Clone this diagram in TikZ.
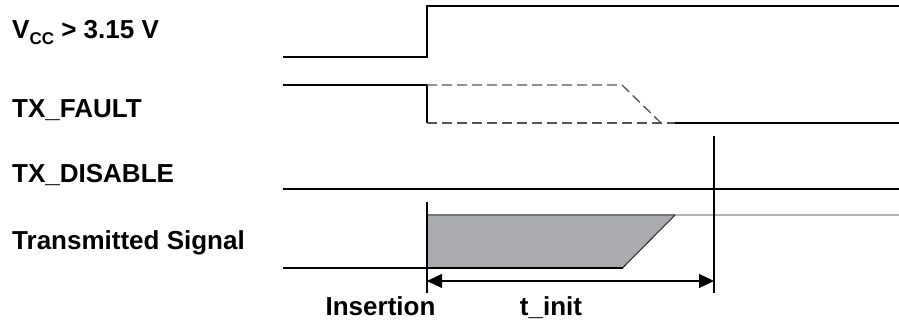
\documentclass[tikz,border=0pt]{standalone}
\usepackage{fontspec}
\setmainfont{Liberation Sans}
\usetikzlibrary{arrows.meta}
\definecolor{shadefill}{RGB}{169,171,174}
\definecolor{shadeedge}{RGB}{118,118,118}
\definecolor{tracelight}{RGB}{180,180,180}
\definecolor{ghostgray}{RGB}{85,85,85}

\begin{document}
\begin{tikzpicture}[
  x=1pt, y=-1pt,
  wave/.style={line width=1.3pt, black},
  ghost/.style={line width=1.3pt, ghostgray, dash pattern=on 10pt off 5pt},
  marker/.style={line width=1.2pt, black},
  signame/.style={anchor=base west, inner sep=0pt, font=\fontsize{26}{30}\selectfont\bfseries},
  evname/.style={anchor=base, inner sep=0pt, font=\fontsize{26}{30}\selectfont\bfseries},
  span/.style={{Triangle[length=15pt,width=14pt]}-{Triangle[length=15pt,width=14pt]}, line width=1.3pt},
]
  \useasboundingbox (0,0) rectangle (899,320);

  % Signal names
  \node[signame] (vcc) at (12,39) {V\raisebox{-6pt}{\fontsize{17}{20}\selectfont CC} > 3.15 V};
  \node[signame] (fault) at (12,118) {TX\_FAULT};
  \node[signame] (disable) at (12,183) {TX\_DISABLE};
  \node[signame] (txsig) at (12,250) {Transmitted Signal};

  % Time markers
  \coordinate (ins) at (427,281);
  \coordinate (init) at (714,281);

  % Vcc
  \draw[wave] (283,57) -- (427,57) -- (427,6) -- (899,6);

  % TX_FAULT
  \draw[wave] (283,85) -- (427,85) -- (427,123);
  \draw[ghost] (427,85) -- (622,85) -- (661,123);
  \draw[ghost] (427,123) -- (675,123);
  \draw[wave] (675,123) -- (899,123);

  % TX_DISABLE
  \draw[wave] (283,189) -- (899,189);

  % Transmitted Signal
  \fill[shadefill] (427,215) -- (675,215) -- (622.5,268) -- (427,268) -- cycle;
  \draw[line width=1.3pt, shadeedge] (427,215) -- (675,215);
  \draw[line width=1.3pt, tracelight] (675,215) -- (899,215);
  \draw[line width=1.1pt, black!80] (675,215) -- (622.5,268);
  \draw[wave] (283,268) -- (622.5,268);

  % Markers and t_init span
  \draw[marker] (427,202) -- (427,293);
  \draw[marker] (714,136) -- (714,293);
  \draw[span] (ins) -- (init);
  \node[evname] (insertion) at (380.5,315) {Insertion};
  \node[evname] (tinit) at (551,315) {t\_init};
\end{tikzpicture}
\end{document}
